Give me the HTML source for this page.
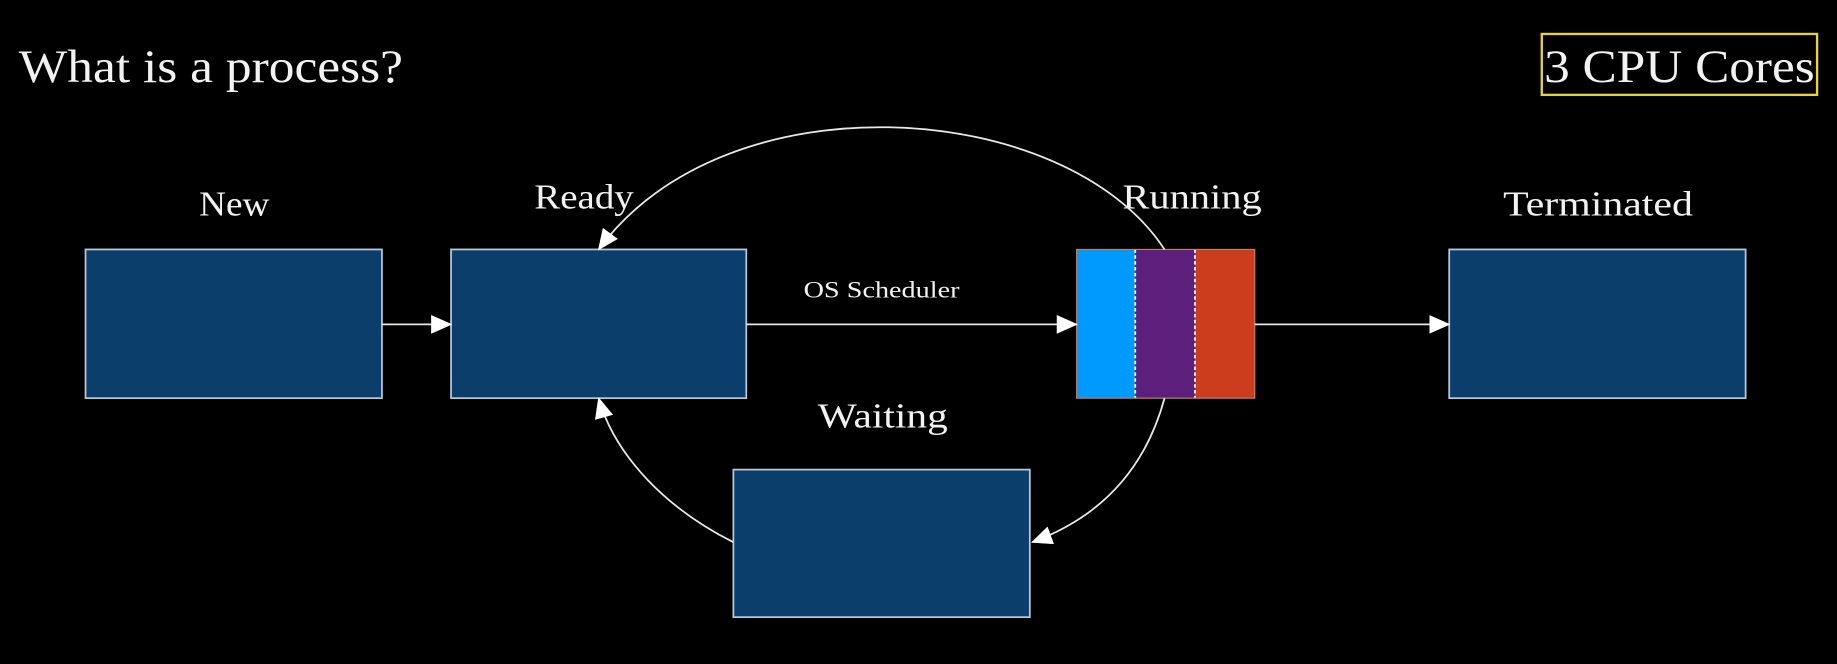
<!DOCTYPE html>
<html><head><meta charset="utf-8"><style>
html,body{margin:0;padding:0;background:#000;}
svg{display:block;}
text{font-family:"Liberation Serif",serif;fill:#f2f2f2;}
</style></head><body>
<svg width="1837" height="664" viewBox="0 0 1568 567" preserveAspectRatio="none" xmlns="http://www.w3.org/2000/svg">
<defs>
<marker id="a" markerUnits="userSpaceOnUse" markerWidth="18" markerHeight="16" refX="17" refY="8" orient="auto">
<path d="M0,0 L18,8 L0,16 Z" fill="#fff"/>
</marker>
</defs>
<rect width="1568" height="567" fill="#000"/>
<text x="16" y="70" font-size="40" textLength="328" lengthAdjust="spacingAndGlyphs">What is a process?</text>
<rect x="1316" y="29" width="235" height="52" fill="none" stroke="#e6d43a" stroke-width="2"/>
<text x="1318" y="70" font-size="40" textLength="231" lengthAdjust="spacingAndGlyphs">3 CPU Cores</text>

<g fill="#0b3e6b" stroke="#b8c8d8" stroke-width="1.5">
<rect x="73" y="213" width="253" height="127"/>
<rect x="385" y="213" width="252" height="127"/>
<rect x="1237" y="213" width="253" height="127"/>
<rect x="626" y="401" width="253" height="126"/>
</g>
<rect x="919" y="213" width="50" height="127" fill="#0099fe"/>
<rect x="969" y="213" width="51" height="127" fill="#5d1f7c"/>
<rect x="1020" y="213" width="51" height="127" fill="#cc3d1d"/>
<line x1="969" y1="213" x2="969" y2="340" stroke="#fff" stroke-width="1.5" stroke-dasharray="3,2"/>
<line x1="1020" y1="213" x2="1020" y2="340" stroke="#fff" stroke-width="1.5" stroke-dasharray="3,2"/>
<rect x="919" y="213" width="152" height="127" fill="none" stroke="#c08070" stroke-width="1"/>

<text x="170" y="184" font-size="30" textLength="60" lengthAdjust="spacingAndGlyphs">New</text>
<text x="456" y="178" font-size="30" textLength="85" lengthAdjust="spacingAndGlyphs">Ready</text>
<text x="958" y="178" font-size="30" textLength="119" lengthAdjust="spacingAndGlyphs">Running</text>
<text x="1283" y="184" font-size="30" textLength="162" lengthAdjust="spacingAndGlyphs">Terminated</text>
<text x="698" y="365" font-size="30" textLength="111" lengthAdjust="spacingAndGlyphs">Waiting</text>
<text x="686" y="254" font-size="20" textLength="133" lengthAdjust="spacingAndGlyphs">OS Scheduler</text>

<g stroke="#e8e8e8" stroke-width="1.5" fill="none">
<line x1="326" y1="277" x2="385" y2="277" marker-end="url(#a)"/>
<line x1="637" y1="277" x2="919" y2="277" marker-end="url(#a)"/>
<line x1="1071" y1="277" x2="1237" y2="277" marker-end="url(#a)"/>
<path d="M994,213 C910,84 620,64 511,213" marker-end="url(#a)"/>
<path d="M994,340 C975,410 930,445 881,463" marker-end="url(#a)"/>
<path d="M626,463 C570,435 525,390 511,340" marker-end="url(#a)"/>
</g>
</svg>
</body></html>
